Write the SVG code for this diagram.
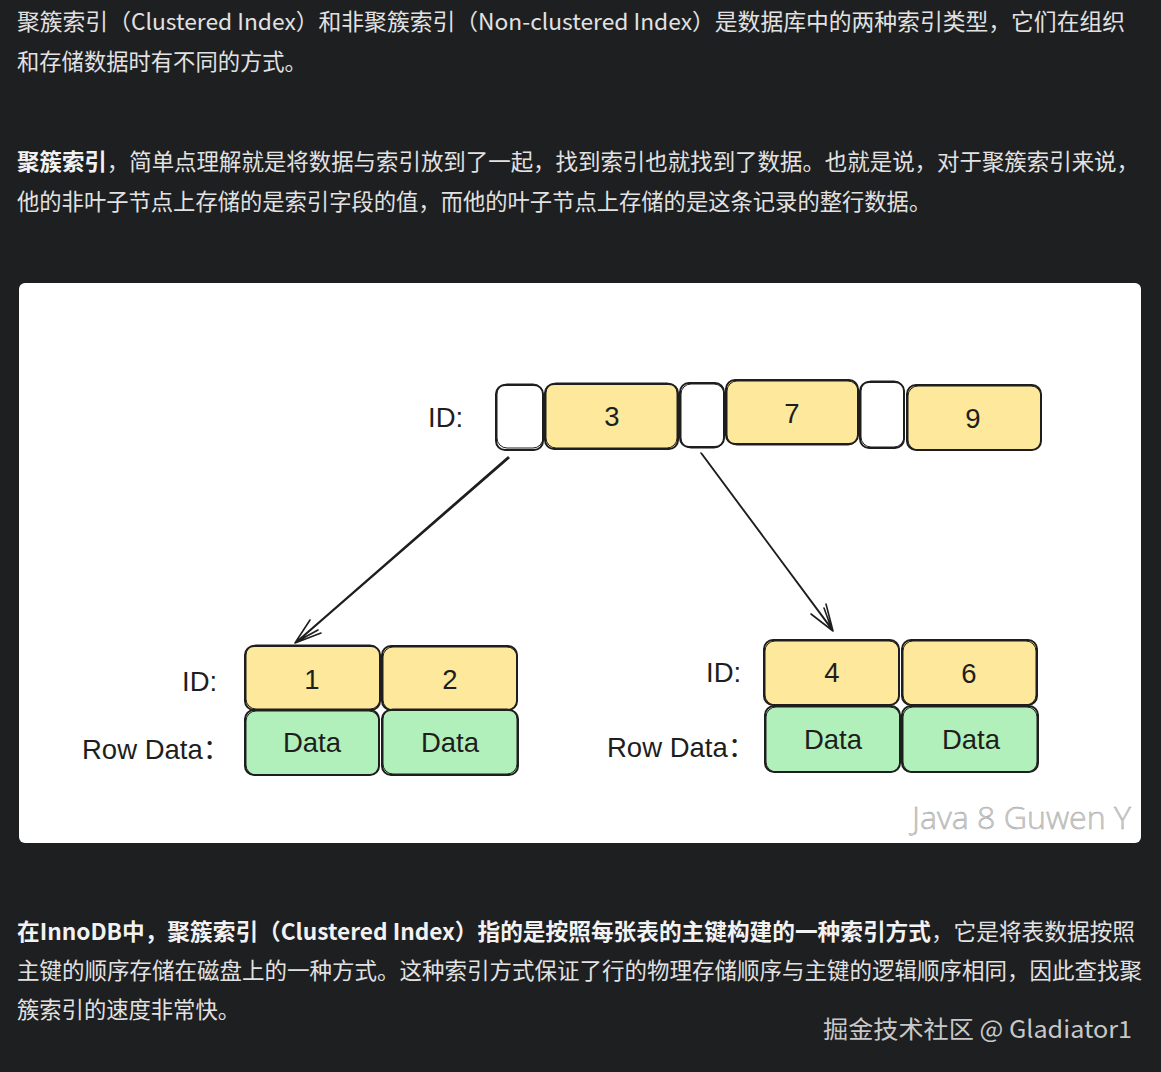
<svg xmlns="http://www.w3.org/2000/svg" width="1161" height="1072" viewBox="0 0 1161 1072">
<style>
.p{font-family:"Noto Sans CJK SC","Noto Sans",sans-serif;font-size:22.3px;fill:#e2e2e2}
.b{font-weight:bold;fill:#f2f2f2}
.lbl{font-family:"Liberation Sans",Arial,"Noto Sans CJK SC",sans-serif;font-size:27.5px;fill:#1e1e1e}
.num{font-family:"Liberation Sans",Arial,sans-serif;font-size:27.5px;fill:#1e1e1e;text-anchor:middle}
.box{stroke:#1e1e1e;stroke-width:2;stroke-linejoin:round}
.sk{fill:none;stroke:#1e1e1e;stroke-width:1}
.y{fill:#fde89b}
.g{fill:#b2f0bb}
.w{fill:#ffffff}
.ar{fill:none;stroke:#1e1e1e;stroke-width:1.6;stroke-linecap:round}
</style>
<rect x="0" y="0" width="1161" height="1072" fill="#1e1f21"/>
<g id="text-top">
<text class="p" x="17" y="30" textLength="1108" lengthAdjust="spacingAndGlyphs">聚簇索引（Clustered Index）和非聚簇索引（Non-clustered Index）是数据库中的两种索引类型，它们在组织</text>
<text class="p" x="17" y="70">和存储数据时有不同的方式。</text>
<text class="p" x="17" y="170" textLength="1122" lengthAdjust="spacingAndGlyphs"><tspan class="b">聚簇索引</tspan>，简单点理解就是将数据与索引放到了一起，找到索引也就找到了数据。也就是说，对于聚簇索引来说，</text>
<text class="p" x="17" y="210">他的非叶子节点上存储的是索引字段的值，而他的叶子节点上存储的是这条记录的整行数据。</text>
</g>
<rect id="card" x="19" y="283" width="1122" height="560" rx="6" fill="#ffffff"/>
<g id="root-node">
<text class="lbl" x="428" y="427">ID:</text>
<rect class="box w" x="496" y="385" width="47" height="65" rx="9"/>
<rect class="sk" x="497" y="384" width="46" height="64" rx="10"/>
<rect class="box y" x="545" y="384" width="133" height="65" rx="9"/>
<rect class="sk" x="546" y="383" width="131" height="65" rx="10"/>
<text class="num" x="612" y="426">3</text>
<rect class="box w" x="680" y="383" width="44" height="64" rx="9"/>
<rect class="sk" x="681" y="384" width="43" height="64" rx="10"/>
<rect class="box y" x="726" y="380" width="132" height="64" rx="9"/>
<rect class="sk" x="727" y="381" width="131" height="64" rx="10"/>
<text class="num" x="792" y="423">7</text>
<rect class="box w" x="860" y="382" width="44" height="66" rx="9"/>
<rect class="sk" x="861" y="381" width="43" height="66" rx="10"/>
<rect class="box y" x="907" y="385" width="134" height="65" rx="9"/>
<rect class="sk" x="908" y="386" width="133" height="64" rx="10"/>
<text class="num" x="973" y="428">9</text>
</g>
<g id="leaf-left">
<text class="lbl" x="182" y="691">ID:</text>
<text class="lbl" x="82" y="759">Row Data：</text>
<rect class="box y" x="245" y="646" width="135" height="64" rx="9"/>
<rect class="sk" x="246" y="645" width="134" height="64" rx="10"/>
<text class="num" x="312" y="689">1</text>
<rect class="box y" x="382" y="646" width="135" height="64" rx="9"/>
<rect class="sk" x="383" y="647" width="134" height="63" rx="10"/>
<text class="num" x="450" y="689">2</text>
<rect class="box g" x="245" y="710" width="134" height="65" rx="9"/>
<rect class="sk" x="246" y="711" width="133" height="64" rx="10"/>
<text class="num" x="312" y="752">Data</text>
<rect class="box g" x="382" y="710" width="136" height="65" rx="9"/>
<rect class="sk" x="383" y="709" width="134" height="65" rx="10"/>
<text class="num" x="450" y="752">Data</text>
</g>
<g id="leaf-right">
<text class="lbl" x="706" y="682">ID:</text>
<text class="lbl" x="607" y="757">Row Data：</text>
<rect class="box y" x="764" y="640" width="135" height="65" rx="9"/>
<rect class="sk" x="765" y="641" width="134" height="64" rx="10"/>
<text class="num" x="832" y="682">4</text>
<rect class="box y" x="902" y="640" width="135" height="65" rx="9"/>
<rect class="sk" x="903" y="641" width="133" height="64" rx="10"/>
<text class="num" x="969" y="683">6</text>
<rect class="box g" x="765" y="706" width="135" height="66" rx="9"/>
<rect class="sk" x="766" y="707" width="134" height="65" rx="10"/>
<text class="num" x="833" y="749">Data</text>
<rect class="box g" x="902" y="706" width="136" height="66" rx="9"/>
<rect class="sk" x="903" y="707" width="134" height="65" rx="10"/>
<text class="num" x="971" y="749">Data</text>
</g>
<g id="connectors">
<path class="ar" d="M508 457 L295 643 M509 458 L297 642 M295 643 L321 633 M295 643 L310 620 M296 642 L318 630"/>
<path class="ar" d="M701 453 L833 631 M702 454 L832 629 M833 631 L826 604 M833 631 L811 614 M832 630 L824 608"/>
</g>
<text id="watermark-card" x="912" y="829" font-family="Open Sans, sans-serif" font-weight="300" font-size="31" fill="#cfcfcf" stroke="#9a9a9a" stroke-width="0.4" textLength="219" lengthAdjust="spacingAndGlyphs">Java 8 Guwen Y</text>
<g id="text-bottom">
<text class="p" x="17" y="940" textLength="1118" lengthAdjust="spacingAndGlyphs"><tspan class="b">在InnoDB中，聚簇索引（Clustered Index）指的是按照每张表的主键构建的一种索引方式</tspan>，它是将表数据按照</text>
<text class="p" x="17" y="979" textLength="1125" lengthAdjust="spacingAndGlyphs">主键的顺序存储在磁盘上的一种方式。这种索引方式保证了行的物理存储顺序与主键的逻辑顺序相同，因此查找聚</text>
<text class="p" x="17" y="1018">簇索引的速度非常快。</text>
</g>
<text id="watermark-footer" x="823" y="1038" font-family="Noto Sans CJK SC, Noto Sans, sans-serif" font-size="24" fill="#c8c8c8" textLength="309" lengthAdjust="spacingAndGlyphs">掘金技术社区 @ Gladiator1</text>
</svg>
